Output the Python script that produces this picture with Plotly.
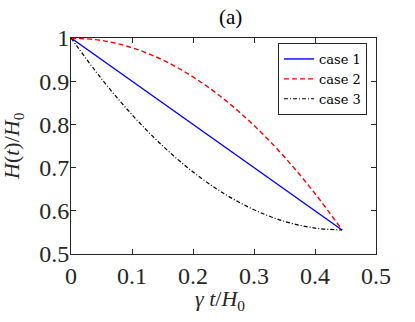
import plotly.graph_objects as go

# Data
x_vals = [0.0, 0.05, 0.1, 0.15, 0.2, 0.25, 0.3, 0.35, 0.4, 0.4444]
case1 = [1.0, 0.95, 0.90, 0.85, 0.80, 0.75, 0.70, 0.65, 0.60, 0.5556]
case2 = [1.0, 0.9944, 0.9775, 0.9494, 0.910, 0.8594, 0.7975, 0.7244, 0.640, 0.5556]
case3 = [1.0, 0.9056, 0.8225, 0.7506, 0.690, 0.6406, 0.6025, 0.5756, 0.560, 0.5556]
series_names = ["case 1", "case 2", "case 3"]
x_ticks = [0, 0.1, 0.2, 0.3, 0.4, 0.5]
x_tick_labels = ["0", "0.1", "0.2", "0.3", "0.4", "0.5"]
y_ticks = [0.5, 0.6, 0.7, 0.8, 0.9, 1.0]
y_tick_labels = ["0.5", "0.6", "0.7", "0.8", "0.9", "1"]

FONT = "Liberation Serif"
LEG_FONT = "DejaVu Serif"
AXC = "#262626"

fig = go.Figure()
fig.add_trace(go.Scatter(x=x_vals, y=case1, mode="lines", name=series_names[0],
                         line=dict(color="#0000FF", width=1.4)))
fig.add_trace(go.Scatter(x=x_vals, y=case2, mode="lines", name=series_names[1],
                         line=dict(color="#FF0000", width=1.4, dash="5px,3px", shape="spline")))
fig.add_trace(go.Scatter(x=x_vals, y=case3, mode="lines", name=series_names[2],
                         line=dict(color="#000000", width=1.2, dash="4px,2px,1px,2px", shape="spline")))

axis_common = dict(
    showgrid=False, zeroline=False, showline=True, linecolor=AXC, linewidth=1,
    mirror="ticks", ticks="inside", ticklen=5, tickcolor=AXC, automargin=False,
    tickfont=dict(family=FONT, size=24, color=AXC),
)

L, R, T, B = 71, 39, 38, 68
PW, PH = 415 - L - R, 322 - T - B

fig.update_layout(
    width=415, height=322,
    font=dict(family=FONT),
    margin=dict(l=L, r=R, t=T, b=B),
    paper_bgcolor="white", plot_bgcolor="white",
    xaxis=dict(range=[0, 0.5], tickvals=x_ticks, ticktext=x_tick_labels, **axis_common),
    yaxis=dict(range=[0.5, 1.0], tickvals=y_ticks, ticktext=y_tick_labels,
               ticklabelstandoff=-4, **axis_common),
    legend=dict(x=(367 - L) / PW, y=(322 - B - 43) / PH, xanchor="right", yanchor="top",
                bordercolor=AXC, borderwidth=1, bgcolor="white",
                font=dict(family=LEG_FONT, size=13, color="black"),
                itemwidth=30, tracegroupgap=0),
    showlegend=True,
    annotations=[
        dict(text="(a)", xref="paper", yref="paper", showarrow=False,
             x=(230.7 - L) / PW, y=(322 - B - 17.5) / PH, xanchor="center", yanchor="middle",
             font=dict(family=FONT, size=21, color="black")),
        dict(text="<i>γ t</i>/<i>H</i><sub>0</sub>", xref="paper", yref="paper", showarrow=False,
             x=(220 - L) / PW, y=(322 - B - 300) / PH, xanchor="center", yanchor="middle",
             font=dict(family=FONT, size=22, color=AXC)),
        dict(text="<i>H</i>(<i>t</i>)/<i>H</i><sub>0</sub>", xref="paper", yref="paper", showarrow=False,
             x=(13 - L) / PW, y=0.5, xanchor="center", yanchor="middle", textangle=-90,
             font=dict(family=FONT, size=22, color=AXC)),
    ],
)

fig.write_html("out.html", config={"displayModeBar": False},
               post_script="document.body.style.margin='0';")
